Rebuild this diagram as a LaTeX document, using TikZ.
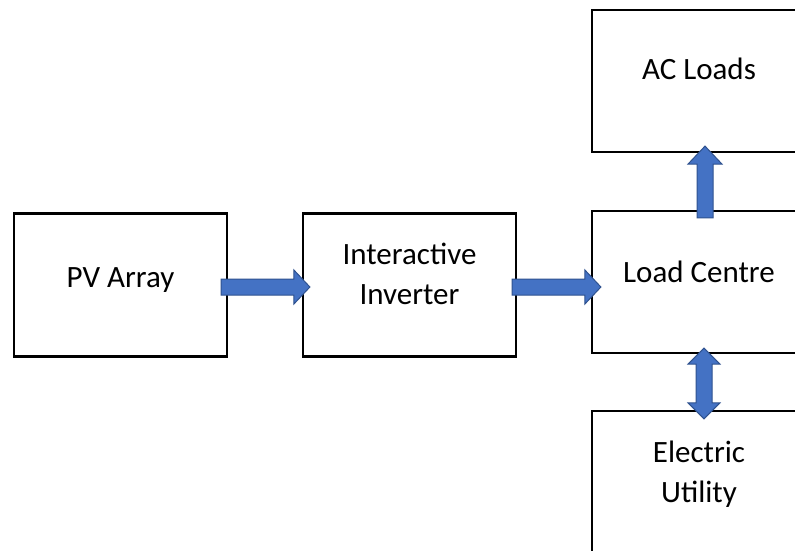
\documentclass[tikz,border=0pt]{standalone}
\usepackage{fontspec}
\setmainfont{Carlito}
\usetikzlibrary{calc}
\definecolor{arrowblue}{HTML}{4472C4}
\definecolor{arrowedge}{HTML}{2F528F}
\newcommand{\hblockarrow}[2]{%
  \draw[blockarrow] let \p1=(#1), \p2=(#2) in
    (\x1,\y1+8) -- (\x2-16,\y1+8) -- (\x2-16,\y1+17) -- (\x2,\y1)
    -- (\x2-16,\y1-17) -- (\x2-16,\y1-8) -- (\x1,\y1-8) -- cycle;}
\newcommand{\vblockarrow}[2]{% #1 tail (lower), #2 tip (upper)
  \draw[blockarrow] let \p1=(#1), \p2=(#2) in
    (\x1-8,\y1) -- (\x1-8,\y2-18) -- (\x1-17,\y2-18) -- (\x1,\y2)
    -- (\x1+17,\y2-18) -- (\x1+8,\y2-18) -- (\x1+8,\y1) -- cycle;}
\newcommand{\vdblockarrow}[2]{% #1 lower tip, #2 upper tip
  \draw[blockarrow] let \p1=(#1), \p2=(#2) in
    (\x1,\y1) -- (\x1-16,\y1+16) -- (\x1-8,\y1+16) -- (\x1-8,\y2-16)
    -- (\x1-16,\y2-16) -- (\x1,\y2) -- (\x1+16,\y2-16) -- (\x1+8,\y2-16)
    -- (\x1+8,\y1+16) -- (\x1+16,\y1+16) -- cycle;}
\begin{document}
\begin{tikzpicture}[x=1pt,y=-1pt,
  box/.style={draw=black, line width=2.2pt, rectangle, inner sep=0pt,
    minimum width=213pt, minimum height=143pt},
  lbl/.style={font=\fontsize{31}{40}\selectfont, align=center, inner sep=0pt},
  blockarrow/.style={fill=arrowblue, draw=arrowedge, line width=1pt, line join=miter}]
\useasboundingbox (0,0) rectangle (795,550);
\fill[white] (0,0) rectangle (795,550);
\clip (0,0) rectangle (795,550);

\node[box] (pv) at (120.5,285) {};
\node[box] (inv) at (409.5,285) {};
\node[box, minimum width=214pt, minimum height=142pt] (ac) at (699,81) {};
\node[box, minimum width=214pt, minimum height=142pt] (lc) at (699,282) {};
\node[box, minimum width=214pt, minimum height=142pt] (eu) at (699,482) {};

\node[lbl, anchor=base] (pvt) at ($(pv.center)+(0,2)$) {PV Array};
\node[lbl, anchor=base] (invt) at ($(inv.center)+(0,19)$) {Interactive\\Inverter};
\node[lbl, anchor=base] (act) at ($(ac.center)+(0,-2)$) {AC Loads};
\node[lbl, anchor=base] (lct) at ($(lc.center)+(0,0)$) {Load Centre};
\node[lbl, anchor=base] (eut) at ($(eu.center)+(0,20)$) {Electric\\Utility};

\coordinate (a1s) at ($(pv.east)+(-7,2)$);
\coordinate (a1e) at ($(inv.west)+(8,2)$);
\coordinate (a2s) at ($(inv.east)+(-5,2)$);
\coordinate (a2e) at ($(lc.west)+(10,5)$);
\coordinate (a3s) at ($(lc.north)+(6,8)$);
\coordinate (a3e) at ($(ac.south)+(6,-7)$);
\coordinate (a4s) at ($(eu.north)+(5,9)$);
\coordinate (a4e) at ($(lc.south)+(5,-6)$);

\hblockarrow{a1s}{a1e}
\hblockarrow{a2s}{a2e}
\vblockarrow{a3s}{a3e}
\vdblockarrow{a4s}{a4e}
\end{tikzpicture}
\end{document}
